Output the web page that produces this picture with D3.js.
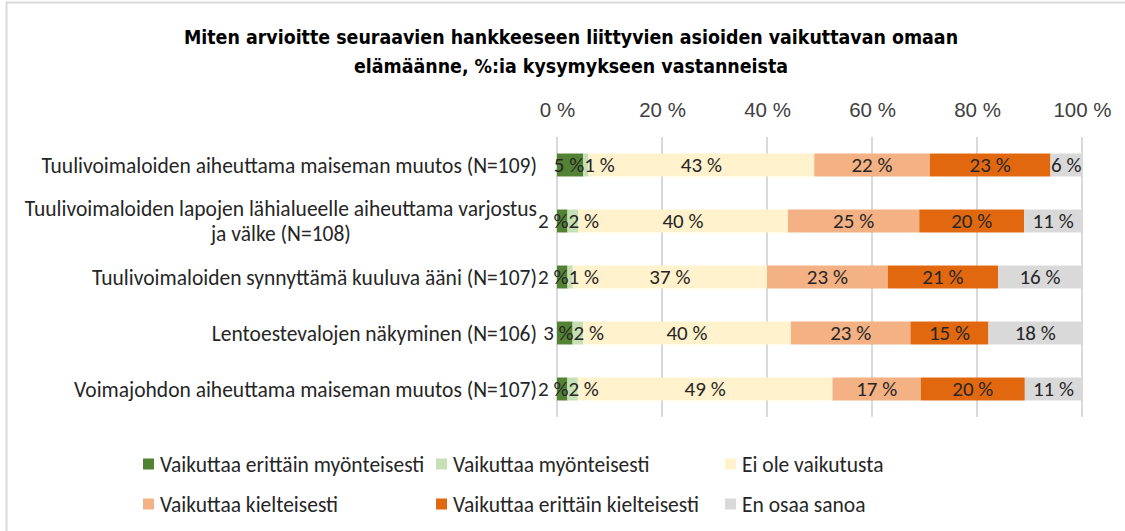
<!DOCTYPE html>
<html>
<head>
<meta charset="utf-8">
<script src="https://cdn.jsdelivr.net/npm/d3@7"></script>
<style>
  html, body { margin: 0; padding: 0; background: #fff; }
  svg { display: block; font-family: Carlito, Calibri, "Open Sans", sans-serif; }
  .title { font-family: "Liberation Sans Narrow", "DejaVu Sans Condensed", Carlito, sans-serif; }
</style>
</head>
<body>
<svg id="chart" width="1125" height="531"></svg>
<script>
// Survey items (a "\n" marks where a long label wraps)
const categories = [
  "Tuulivoimaloiden aiheuttama maiseman muutos (N=109)",
  "Tuulivoimaloiden lapojen lähialueelle aiheuttama varjostus\nja välke (N=108)",
  "Tuulivoimaloiden synnyttämä kuuluva ääni (N=107)",
  "Lentoestevalojen näkyminen (N=106)",
  "Voimajohdon aiheuttama maiseman muutos (N=107)"
];

const seriesNames = [
  "Vaikuttaa erittäin myönteisesti",
  "Vaikuttaa myönteisesti",
  "Ei ole vaikutusta",
  "Vaikuttaa kielteisesti",
  "Vaikuttaa erittäin kielteisesti",
  "En osaa sanoa"
];

// Share of respondents, %
const veryPositive = [5, 2, 2, 3, 2];
const positive     = [1, 2, 1, 2, 2];
const noEffect     = [43, 40, 37, 40, 49];
const negative     = [22, 25, 23, 23, 17];
const veryNegative = [23, 20, 21, 15, 20];
const dontKnow     = [6, 11, 16, 18, 11];

const tickValues = [0, 0.2, 0.4, 0.6, 0.8, 1];
const tickLabels = ["0 %", "20 %", "40 %", "60 %", "80 %", "100 %"];

const titleLines = [
  "Miten arvioitte seuraavien hankkeeseen liittyvien asioiden vaikuttavan omaan",
  "elämäänne, %:ia kysymykseen vastanneista"
];

const colors = ["#548235", "#c5e0b4", "#fff2cc", "#f4b183", "#e2680f", "#d9d9d9"];
// label placement per series, as set on the data labels
const labelPos = ["insideEnd", "insideBase", "center", "center", "center", "center"];

const seriesValues = [veryPositive, positive, noEffect, negative, veryNegative, dontKnow];
const rows = categories.map((c, i) => {
  const r = { category: c };
  seriesNames.forEach((s, k) => { r[s] = seriesValues[k][i]; });
  return r;
});

const svg = d3.select("#chart");

// chart border (top and left edges fall inside the frame)
svg.append("rect")
  .attr("x", 6.5).attr("y", 2.5).attr("width", 1140).attr("height", 560)
  .attr("fill", "none").attr("stroke", "#d9d9d9").attr("stroke-width", 2);

// title
svg.append("text")
  .attr("class", "title")
  .attr("x", 571).attr("y", 44)
  .attr("text-anchor", "middle")
  .attr("font-weight", "bold").attr("font-size", 19.4).attr("fill", "#000")
  .selectAll("tspan").data(titleLines).join("tspan")
  .attr("x", 571).attr("dy", (d, i) => i === 0 ? 0 : 29)
  .text(d => d);

const x = d3.scaleLinear().domain([0, 1]).range([557, 1082]);
const y = d3.scaleBand().domain(categories).range([137, 417])
  .paddingInner(0.59).paddingOuter(0.295);

// gridlines
svg.append("g").selectAll("line").data(tickValues).join("line")
  .attr("x1", d => x(d)).attr("x2", d => x(d))
  .attr("y1", 137).attr("y2", 417)
  .attr("stroke", "#d9d9d9").attr("stroke-width", 2);

// top axis labels
const axis = d3.axisTop(x).tickValues(tickValues)
  .tickFormat((d, i) => tickLabels[i]).tickSize(0).tickPadding(0);
const axisG = svg.append("g").attr("transform", "translate(0,117)").call(axis);
axisG.select(".domain").remove();
axisG.selectAll("text")
  .attr("font-family", null).attr("font-size", 20.5).attr("fill", "#404040")
  .attr("dy", 0);

// stacked bars, each row scaled to 100 %
const stack = d3.stack().keys(seriesNames).offset(d3.stackOffsetExpand);
const layers = stack(rows);

const layerG = svg.append("g").selectAll("g").data(layers).join("g")
  .attr("fill", (d, i) => colors[i]);

layerG.selectAll("rect").data(d => d).join("rect")
  .attr("x", d => x(d[0]))
  .attr("width", d => x(d[1]) - x(d[0]))
  .attr("y", d => y(d.data.category))
  .attr("height", y.bandwidth());

// data labels
const labelG = svg.append("g").selectAll("g").data(layers).join("g");
labelG.each(function(layer, k) {
  d3.select(this).selectAll("text").data(layer).join("text")
    .attr("x", d => {
      if (labelPos[k] === "insideEnd") return x(d[1]) + 1;
      if (labelPos[k] === "insideBase") return x(d[0]) + 1;
      return (x(d[0]) + x(d[1])) / 2;
    })
    .attr("text-anchor", labelPos[k] === "insideEnd" ? "end" : labelPos[k] === "insideBase" ? "start" : "middle")
    .attr("y", d => y(d.data.category) + y.bandwidth() / 2)
    .attr("dy", "0.35em")
    .attr("font-size", 21).attr("fill", "#262626")
    .text(d => d.data[layer.key] + " %");
});

// category labels, right-aligned against the plot; wrapped lines centred on each other
const catG = svg.append("g");
categories.forEach(c => {
  const lines = c.split("\n");
  const t = catG.append("text")
    .attr("font-size", 21.5).attr("fill", "#262626")
    .attr("text-anchor", "middle");
  const cy = y(c) + y.bandwidth() / 2;
  const lh = 25;
  lines.forEach((ln, i) => {
    t.append("tspan").attr("x", 0)
      .attr("y", cy + (i - (lines.length - 1) / 2) * lh)
      .attr("dy", "0.35em").text(ln);
  });
  const w = t.node().getBBox().width;
  t.selectAll("tspan").attr("x", 537 - w / 2);
});

// legend
const legendX = [143, 436, 725];
const legendY = [464, 504];
const legend = svg.append("g").selectAll("g").data(seriesNames).join("g")
  .attr("transform", (d, i) => `translate(${legendX[i % 3]},${legendY[Math.floor(i / 3)]})`);
legend.append("rect")
  .attr("x", 0).attr("y", -5.5).attr("width", 11).attr("height", 11)
  .attr("fill", (d, i) => colors[i]);
legend.append("text")
  .attr("x", 17).attr("dy", "0.35em")
  .attr("font-size", 21.5).attr("fill", "#262626")
  .text(d => d);
</script>
</body>
</html>
